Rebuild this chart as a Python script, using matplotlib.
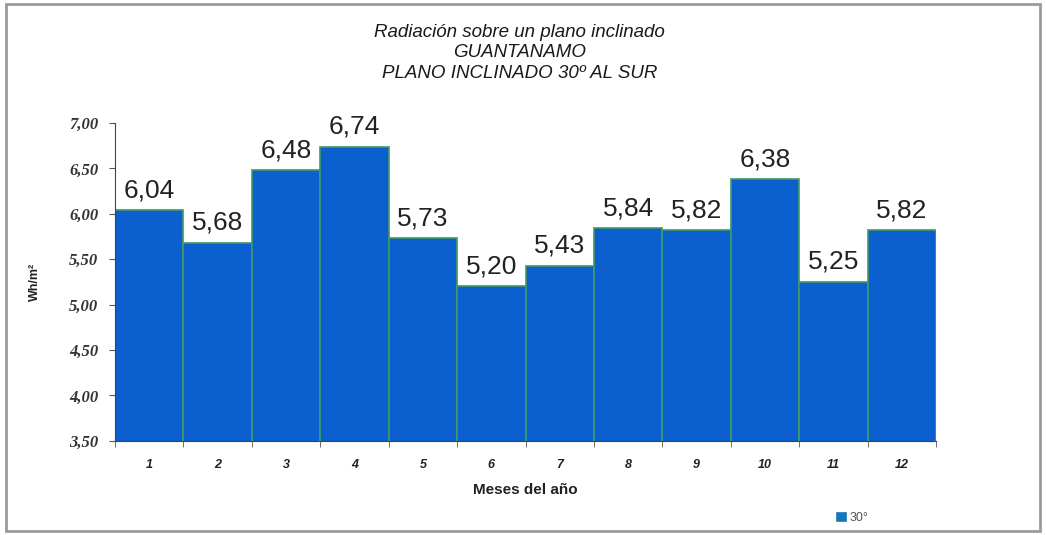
import matplotlib.pyplot as plt
from matplotlib.patches import Rectangle
import numpy as np

months = ["1", "2", "3", "4", "5", "6", "7", "8", "9", "10", "11", "12"]
values = [6.04, 5.68, 6.48, 6.74, 5.73, 5.20, 5.43, 5.84, 5.82, 6.38, 5.25, 5.82]
yticks = [3.50, 4.00, 4.50, 5.00, 5.50, 6.00, 6.50, 7.00]

fig = plt.figure(figsize=(10.46, 5.35), dpi=100)
fig.patches.append(Rectangle((0.006, 0.008), 0.988, 0.984, transform=fig.transFigure,
                             fill=False, edgecolor="#9a9a9a", linewidth=2.0))

ax = fig.add_axes([0.110, 0.176, 0.785, 0.594])
x = np.arange(len(months))
ax.bar(x, values, width=1.0, bottom=0, color="#0b5fcf", edgecolor="#3f9a68",
       linewidth=1.2, label="30°")
for xi, v in zip(x, values):
    ax.text(xi, v + 0.09, f"{v:.2f}".replace(".", ","), ha="center", va="bottom",
            fontsize=19, family="Liberation Sans", color="#222222")

ax.set_xlim(-0.5, len(months) - 0.5)
ax.set_ylim(3.5, 7.0)
ax.set_yticks(yticks)
ax.set_yticklabels([f"{t:.2f}".replace(".", ",") for t in yticks],
                   family="Liberation Serif", fontweight="bold", style="italic",
                   fontsize=12, color="#333333")
ax.set_xticks(x)
ax.set_xticklabels(months, family="Liberation Sans", fontweight="bold", style="italic",
                   fontsize=9, color="#222222")
ax.set_xticks(np.arange(-0.5, len(months)), minor=True)
ax.tick_params(axis="x", which="major", length=0, pad=13)
ax.tick_params(axis="x", which="minor", length=4, color="#555555")
ax.tick_params(axis="y", length=4, color="#555555", pad=8)
for s in ["top", "right"]:
    ax.spines[s].set_visible(False)
ax.spines["left"].set_color("#444444")
ax.spines["bottom"].set_color("#444444")

ax.set_ylabel("Wh/m²", family="Liberation Sans", fontweight="bold", fontsize=9,
              color="#222222", labelpad=20)
ax.set_xlabel("Meses del año", family="Liberation Sans", fontweight="bold", fontsize=11,
              color="#222222", labelpad=9)

fig.text(0.497, 0.955, "Radiación sobre un plano inclinado\nGUANTANAMO\nPLANO INCLINADO 30º AL SUR",
         ha="center", va="top", family="Liberation Sans", style="italic", fontsize=13.5,
         color="#1a1a1a", linespacing=1.25)

leg = fig.legend(loc="center", bbox_to_anchor=(0.815, 0.031), frameon=False,
                 handlelength=0.7, handleheight=0.7, handletextpad=0.3,
                 prop={"family": "Liberation Sans", "size": 9})
leg.get_patches()[0].set_facecolor("#1577b8")
leg.get_patches()[0].set_edgecolor("#1577b8")
for t in leg.get_texts():
    t.set_color("#555555")

fig.savefig("out.png", dpi=100)
